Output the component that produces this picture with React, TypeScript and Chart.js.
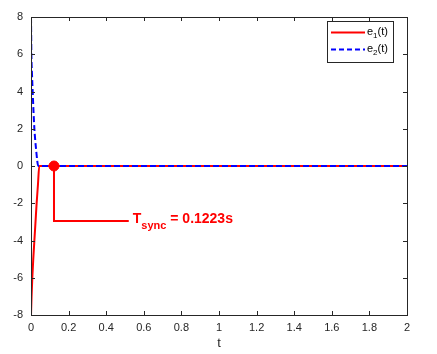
import React, { useEffect, useRef } from "react";
import { Chart, registerables } from "chart.js";

Chart.register(...registerables);

// e1(t): red solid
const e1Time = [0, 0.003, 0.007, 0.012, 0.018, 0.024, 0.030, 0.037, 0.044, 2];
const e1Values = [-8, -7, -6, -5, -4, -3, -2, -1, 0, 0];
// e2(t): blue dashed
const e2Time = [0, 0.001, 0.002, 0.005, 0.009, 0.013, 0.018, 0.026, 0.039, 2];
const e2Values = [8, 7, 6, 5, 4, 3, 2, 1, 0, 0];

const tSync = 0.1223;
const syncValue = 0;
const annotLevel = -2.95;
const annotEndT = 0.52;
const annotMain = "T";
const annotSub = "sync";
const annotRest = " = 0.1223s";

const legendBase = ["e", "e"];
const legendSubs = ["1", "2"];
const legendTail = ["(t)", "(t)"];

const xTicks = [0, 0.2, 0.4, 0.6, 0.8, 1, 1.2, 1.4, 1.6, 1.8, 2];
const yTicks = [-8, -6, -4, -2, 0, 2, 4, 6, 8];
const xTitle = "t";

const FONT = "'Liberation Sans', Arial, Helvetica, sans-serif";
const AXIS_COLOR = "#262626";

const framePlugin = {
  id: "framePlugin",
  beforeDatasetsDraw(chart: any) {
    const { ctx, scales } = chart;
    const x = scales.x, y = scales.y;
    const px = x.getPixelForValue(tSync);
    const py = y.getPixelForValue(syncValue);
    const ay = y.getPixelForValue(annotLevel);
    const ax = x.getPixelForValue(annotEndT);
    ctx.save();
    ctx.strokeStyle = "#ff0000";
    ctx.lineWidth = 2;
    ctx.beginPath();
    ctx.moveTo(px, py);
    ctx.lineTo(px, ay);
    ctx.lineTo(ax, ay);
    ctx.stroke();
    // text
    ctx.fillStyle = "#ff0000";
    ctx.textBaseline = "middle";
    ctx.textAlign = "left";
    let tx = ax + 4;
    ctx.font = `bold 14px ${FONT}`;
    ctx.fillText(annotMain, tx, ay - 2);
    tx += ctx.measureText(annotMain).width;
    ctx.font = `bold 11px ${FONT}`;
    ctx.fillText(annotSub, tx, ay + 5);
    tx += ctx.measureText(annotSub).width;
    ctx.font = `bold 14px ${FONT}`;
    ctx.fillText(annotRest, tx, ay - 2);
    ctx.restore();
  },
  afterDraw(chart: any) {
    const { ctx, chartArea, scales } = chart;
    const { left, right, top, bottom } = chartArea;
    const x = scales.x, y = scales.y;
    ctx.save();
    ctx.strokeStyle = AXIS_COLOR;
    ctx.lineWidth = 1;
    ctx.strokeRect(Math.round(left) + 0.5, Math.round(top) + 0.5, Math.round(right - left), Math.round(bottom - top));
    const tl = 4;
    ctx.beginPath();
    xTicks.forEach((v) => {
      const p = Math.round(x.getPixelForValue(v)) + 0.5;
      ctx.moveTo(p, bottom);
      ctx.lineTo(p, bottom - tl);
      ctx.moveTo(p, top);
      ctx.lineTo(p, top + tl);
    });
    yTicks.forEach((v) => {
      const p = Math.round(y.getPixelForValue(v)) + 0.5;
      ctx.moveTo(left, p);
      ctx.lineTo(left + tl, p);
      ctx.moveTo(right, p);
      ctx.lineTo(right - tl, p);
    });
    ctx.stroke();

    // x axis title
    ctx.fillStyle = AXIS_COLOR;
    ctx.font = `13px ${FONT}`;
    ctx.textAlign = "center";
    ctx.textBaseline = "middle";
    ctx.fillText(xTitle, (left + right) / 2, bottom + 28);

    // legend
    const lx = right - 80, ly = top + 4, lw = 66, lh = 41;
    ctx.fillStyle = "#ffffff";
    ctx.fillRect(lx, ly, lw, lh);
    ctx.strokeStyle = AXIS_COLOR;
    ctx.lineWidth = 1;
    ctx.strokeRect(Math.round(lx) + 0.5, Math.round(ly) + 0.5, lw, lh);
    const colors = ["#ff0000", "#0000ff"];
    const dashes = [[], [5, 3]];
    for (let i = 0; i < 2; i++) {
      const yy = ly + 11.5 + i * 17;
      ctx.strokeStyle = colors[i];
      ctx.lineWidth = 2;
      ctx.setLineDash(dashes[i]);
      ctx.beginPath();
      ctx.moveTo(lx + 4, yy);
      ctx.lineTo(lx + 38, yy);
      ctx.stroke();
      ctx.setLineDash([]);
      ctx.fillStyle = "#000000";
      ctx.textAlign = "left";
      ctx.textBaseline = "middle";
      let tx = lx + 40;
      ctx.font = `11px ${FONT}`;
      ctx.fillText(legendBase[i], tx, yy - 1);
      tx += ctx.measureText(legendBase[i]).width;
      ctx.font = `8px ${FONT}`;
      ctx.fillText(legendSubs[i], tx, yy + 3);
      tx += ctx.measureText(legendSubs[i]).width;
      ctx.font = `11px ${FONT}`;
      ctx.fillText(legendTail[i], tx, yy - 1);
    }
    ctx.restore();
  },
};

export default function App() {
  const ref = useRef<HTMLCanvasElement | null>(null);
  useEffect(() => {
    if (!ref.current) return;
    const chart = new Chart(ref.current, {
      type: "line",
      data: {
        datasets: [
          {
            label: "e1(t)",
            data: e1Time.map((t, i) => ({ x: t, y: e1Values[i] })),
            borderColor: "#ff0000",
            borderWidth: 2,
            pointRadius: 0,
            cubicInterpolationMode: "monotone",
            order: 2,
          },
          {
            label: "e2(t)",
            data: e2Time.map((t, i) => ({ x: t, y: e2Values[i] })),
            borderColor: "#0000ff",
            borderWidth: 2,
            borderDash: [6, 3],
            pointRadius: 0,
            cubicInterpolationMode: "monotone",
            order: 1,
          },
          {
            label: "sync",
            data: [{ x: tSync, y: syncValue }],
            borderColor: "#ff0000",
            backgroundColor: "#ff0000",
            pointRadius: 5,
            showLine: false,
            order: 0,
          },
        ],
      },
      options: {
        responsive: false,
        animation: false,
        layout: { padding: { left: 0, right: 30, top: 17, bottom: 0 } },
        plugins: { legend: { display: false }, tooltip: { enabled: false } },
        scales: {
          x: {
            type: "linear",
            min: 0,
            max: 2,
            afterBuildTicks: (s: any) => {
              s.ticks = xTicks.map((v) => ({ value: v }));
            },
            afterFit: (s: any) => {
              s.height = 39;
            },
            grid: { display: false, drawTicks: false, tickLength: 0 },
            border: { display: false },
            ticks: {
              padding: 6,
              color: AXIS_COLOR,
              font: { family: FONT, size: 11 },
              maxRotation: 0,
              autoSkip: false,
              callback: (v: any) => String(Math.round(Number(v) * 10) / 10),
            },
          },
          y: {
            type: "linear",
            min: -8,
            max: 8,
            afterBuildTicks: (s: any) => {
              s.ticks = yTicks.map((v) => ({ value: v }));
            },
            afterFit: (s: any) => {
              s.width = 31;
            },
            grid: { display: false, drawTicks: false, tickLength: 0 },
            border: { display: false },
            ticks: {
              padding: 8,
              color: AXIS_COLOR,
              font: { family: FONT, size: 11 },
              autoSkip: false,
              callback: (v: any) => String(v),
            },
          },
        },
      },
      plugins: [framePlugin],
    } as any);
    return () => chart.destroy();
  }, []);
  return (
    <div style={{ position: "fixed", left: 0, top: 0, width: 437, height: 354, background: "#fff" }}>
      <canvas ref={ref} width={437} height={354} />
    </div>
  );
}
